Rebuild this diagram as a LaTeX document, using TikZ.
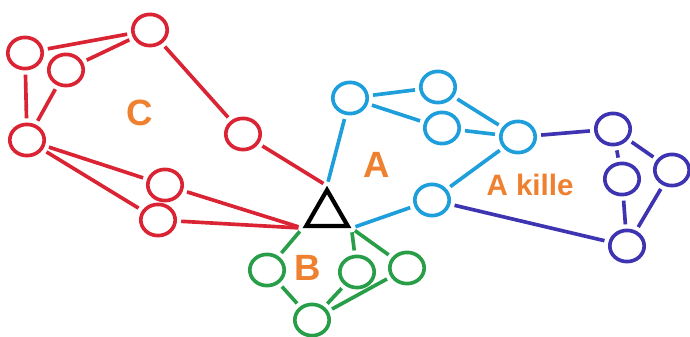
\documentclass[tikz,border=0pt]{standalone}
\usepackage{fontspec}
\setmainfont{Liberation Sans}
\usepackage{xcolor}
\usetikzlibrary{shapes,positioning}

\definecolor{cred}{RGB}{218,36,52}
\definecolor{cblue}{RGB}{30,158,218}
\definecolor{cpurple}{RGB}{62,52,178}
\definecolor{cgreen}{RGB}{40,158,72}
\definecolor{corange}{RGB}{238,128,48}

\begin{document}
\begin{tikzpicture}[
        x=0.025cm, y=-0.025cm,
        peer/.style={ellipse, draw, line width=2.6pt, minimum width=0.86cm, minimum height=0.78cm, inner sep=0pt},
        link/.style={line width=2.6pt, shorten >=3pt, shorten <=3pt},
        group/.style={text=corange, font=\bfseries\fontsize{26}{26}\selectfont},
        hub/.style={regular polygon, regular polygon sides=3, draw, line width=3pt, minimum size=1.2cm, inner sep=0pt}
    ]
        \useasboundingbox (0,0) rectangle (690,336);

        % Attacker
        \node[hub] (tri) at (327,214) {};

        % Red cluster C
        \node[peer, cred] (c1) at (150,30) {};
        \node[peer, cred] (c2) at (25,53) {};
        \node[peer, cred] (c3) at (66,70) {};
        \node[peer, cred] (c4) at (27,140) {};
        \node[peer, cred] (c5) at (243,134) {};
        \node[peer, cred] (c6) at (165,185) {};
        \node[peer, cred] (c7) at (158,220) {};
        \node[group] (lc) at (140,113) {C};

        % Blue cluster A
        \node[peer, cblue] (a1) at (350,98) {};
        \node[peer, cblue] (a2) at (438,87) {};
        \node[peer, cblue] (a3) at (442,128) {};
        \node[peer, cblue] (a4) at (518,137) {};
        \node[peer, cblue] (a5) at (432,200) {};
        \node[group] (la) at (377,165) {A};
        \node[group, font=\bfseries\fontsize{21}{21}\selectfont] (lk) at (530,185) {A kille};

        % Purple cluster
        \node[peer, cpurple] (p1) at (613,129) {};
        \node[peer, cpurple] (p2) at (672,170) {};
        \node[peer, cpurple] (p3) at (622,179) {};
        \node[peer, cpurple] (p4) at (627,246) {};

        % Green cluster B
        \node[peer, cgreen] (g1) at (267,270) {};
        \node[peer, cgreen] (g2) at (357,272) {};
        \node[peer, cgreen] (g3) at (407,268) {};
        \node[peer, cgreen] (g4) at (312,320) {};
        \node[group] (lb) at (308,268) {B};

        % Red links
        \draw[link, cred] (c2) -- (c1);
        \draw[link, cred] (c3) -- (c1);
        \draw[link, cred] (c2) -- (c4);
        \draw[link, cred] (c3) -- (c4);
        \draw[link, cred] (c1) -- (c5);
        \draw[link, cred] (c5) -- (tri.corner 1);
        \draw[link, cred] (c4) -- (c6);
        \draw[link, cred] (c4) -- (c7);
        \draw[link, cred] (c6) -- (tri.corner 2);
        \draw[link, cred] (c7) -- (tri.corner 2);

        % Blue links
        \draw[link, cblue] (tri.corner 1) -- (a1);
        \draw[link, cblue] (a1) -- (a2);
        \draw[link, cblue] (a1) -- (a3);
        \draw[link, cblue] (a2) -- (a4);
        \draw[link, cblue] (a3) -- (a4);
        \draw[link, cblue] (a4) -- (a5);
        \draw[link, cblue] (a5) -- (tri.corner 3);

        % Purple links
        \draw[link, cpurple] (a4) -- (p1);
        \draw[link, cpurple] (p1) -- (p2);
        \draw[link, cpurple] (p1) -- (p3);
        \draw[link, cpurple] (p3) -- (p4);
        \draw[link, cpurple] (p2) -- (p4);
        \draw[link, cpurple] (a5) -- (p4);

        % Green links
        \draw[link, cgreen] (tri.corner 2) -- (g1);
        \draw[link, cgreen] (tri.corner 3) -- (g2);
        \draw[link, cgreen] (tri.corner 3) -- (g3);
        \draw[link, cgreen] (g1) -- (g4);
        \draw[link, cgreen] (g2) -- (g4);
        \draw[link, cgreen] (g3) -- (g4);
    \end{tikzpicture}
\end{document}
